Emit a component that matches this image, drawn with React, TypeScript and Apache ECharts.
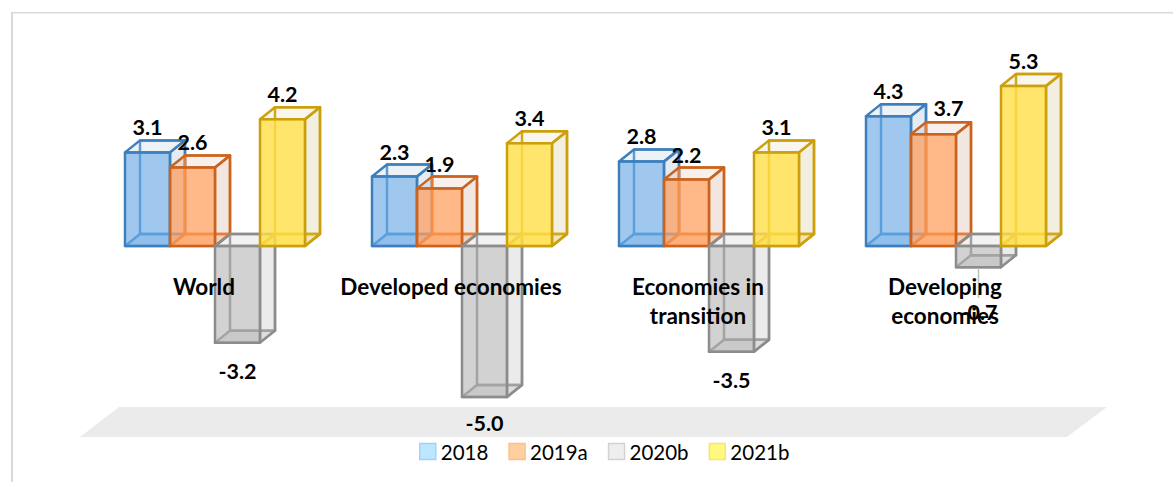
import React, { useEffect, useRef } from "react";
import * as echarts from "echarts";

const categories = ["World", "Developed economies", "Economies in\ntransition", "Developing\neconomies"];
const seriesNames = ["2018", "2019a", "2020b", "2021b"];
const values2018 = [3.1, 2.3, 2.8, 4.3];
const values2019a = [2.6, 1.9, 2.2, 3.7];
const values2020b = [-3.2, -5.0, -3.5, -0.7];
const values2021b = [4.2, 3.4, 3.1, 5.3];
const allValues = [values2018, values2019a, values2020b, values2021b];

const W = 1173;
const H = 482;
const BAND = 247;
const BAR = 45;
const FIRST = -79;
const DX = 15;
const DY = 12;
const FONT = "Lato, Carlito, 'Open Sans', sans-serif";
const Y_MAX = 6;
const GRID_HEIGHT = 362.4;

const styles = [
  { line: "#3d7fbd", back: "#5b9bd5", front: "rgba(91,160,226,0.58)", side: "rgba(130,165,195,0.22)", top: "rgba(130,165,195,0.14)", low: "rgba(91,160,226,0.22)", swatch: "#bde6ff", swatchLine: "#9fd3fb" },
  { line: "#c9631f", back: "#ed7d31", front: "rgba(255,150,80,0.68)", side: "rgba(190,130,100,0.20)", top: "rgba(190,130,100,0.12)", low: "rgba(255,150,80,0.25)", swatch: "#ffd09f", swatchLine: "#fdc088" },
  { line: "#8c8c8c", back: "#a0a0a0", front: "rgba(165,165,165,0.5)", side: "rgba(165,165,165,0.22)", top: "rgba(165,165,165,0.14)", low: "rgba(165,165,165,0.2)", swatch: "#eeeeee", swatchLine: "#d2d2d2" },
  { line: "#cba00c", back: "#d6a90f", front: "rgba(255,222,70,0.8)", side: "rgba(190,170,100,0.20)", top: "rgba(190,170,100,0.10)", low: "rgba(255,222,70,0.28)", swatch: "#fff97f", swatchLine: "#fbe36d" },
];

// Hand-placed label nudges, keyed by "series-category"
const labelNudge: Record<string, { dx?: number; dy?: number; leader?: boolean }> = {
  "1-3": { dx: 15, dy: -1 },
  "2-1": { dy: -2 },
  "2-3": { dy: 17, leader: true },
};

const poly = (points: number[][], fill: string, stroke: string, width = 2.5) => ({
  type: "polygon",
  shape: { points },
  style: { fill, stroke, lineWidth: width, lineJoin: "round" },
  silent: true,
});

function makeRender(si: number) {
  const s = styles[si];
  return (_params: any, api: any) => {
    const cat = api.value(0);
    const val = api.value(1);
    const [cx, yVal] = api.coord([cat, val]);
    const [, y0] = api.coord([cat, 0]);
    const band = api.size([1, 0])[0];
    const w = (band * BAR) / BAND;
    const x = cx + (band * FIRST) / BAND + si * w;
    const t = Math.min(yVal, y0);
    const b = Math.max(yVal, y0);
    const R = x + w;
    const shift = (p: number[]) => [p[0] + DX, p[1] - DY];
    const fBL = [x, b], fBR = [R, b], fTR = [R, t], fTL = [x, t];
    const bBL = shift(fBL), bBR = shift(fBR), bTR = shift(fTR), bTL = shift(fTL);

    const n = labelNudge[`${si}-${cat}`] || {};
    const above = val >= 0;
    const lx = x + w / 2 + (n.dx || 0);
    const ly = (above ? t - 25 : b + 28) + (n.dy || 0);

    const children: any[] = [
      poly([bTL, bTR, bBR, bBL], "rgba(255,255,255,0)", s.back),
      poly([fBL, fBR, bBR, bBL], s.low, s.back),
      poly([fBR, fTR, bTR, bBR], s.side, s.line),
      poly([fTL, fTR, bTR, bTL], s.top, s.line),
      poly([fTL, fTR, fBR, fBL], s.front, s.line),
    ];
    if (n.leader) {
      children.push({
        type: "line",
        shape: { x1: lx, y1: b + 1, x2: lx, y2: 298 },
        style: { stroke: "#bfbfbf", lineWidth: 1.5 },
        silent: true,
      });
    }
    children.push({
      type: "text",
      x: lx,
      y: ly,
      z2: 100,
      style: {
        text: val.toFixed(1),
        fill: "#000",
        font: `bold 21.5px ${FONT}`,
        textAlign: "center",
        textVerticalAlign: "middle",
      },
      silent: true,
    });
    return { type: "group", children };
  };
}

export default function App() {
  const ref = useRef<HTMLDivElement>(null);
  useEffect(() => {
    document.body.style.margin = "0";
    const chart = echarts.init(ref.current!, undefined, { renderer: "svg" });
    chart.setOption({
      animation: false,
      backgroundColor: "#fff",
      grid: { left: 80.5, width: 988, top: 64.8, height: GRID_HEIGHT, containLabel: false, outerBoundsMode: "none" },
      xAxis: {
        type: "category",
        data: categories,
        position: "bottom",
        offset: -GRID_HEIGHT / 2,
        z: 20,
        axisLine: { show: false, onZero: false },
        axisTick: { show: false },
        splitLine: { show: false },
        axisLabel: {
          interval: 0,
          margin: 26,
          color: "#000",
          fontFamily: FONT,
          fontWeight: "bold",
          fontSize: 22.5,
          lineHeight: 29,
          verticalAlign: "top",
        },
      },
      yAxis: {
        type: "value",
        min: -Y_MAX,
        max: Y_MAX,
        axisLine: { show: false },
        axisTick: { show: false },
        axisLabel: { show: false },
        splitLine: { show: false },
      },
      legend: {
        left: 419,
        top: 441,
        padding: 0,
        itemWidth: 16,
        itemHeight: 16,
        itemGap: 20,
        textStyle: { color: "#000", fontFamily: FONT, fontSize: 20.5 },
        data: seriesNames.map((name, i) => ({
          name,
          icon: "rect",
          itemStyle: { color: styles[i].swatch, borderColor: styles[i].swatchLine, borderWidth: 1.5 },
        })),
      },
      graphic: [
        { type: "rect", silent: true, z: -10, shape: { x: 11, y: 12, width: W - 11, height: 1.5 }, style: { fill: "#d9d9d9" } },
        { type: "rect", silent: true, z: -10, shape: { x: 11, y: 12, width: 2, height: H - 12 }, style: { fill: "#d9d9d9" } },
        {
          type: "polygon",
          silent: true,
          z: -10,
          shape: { points: [[119, 407], [1107, 407], [1067, 437], [80, 437]] },
          style: { fill: "#ebebeb" },
        },
      ],
      series: seriesNames.map((name, i) => ({
        name,
        type: "custom",
        coordinateSystem: "cartesian2d",
        z: 2 + i,
        clip: false,
        itemStyle: { color: styles[i].swatch, borderColor: styles[i].swatchLine },
        renderItem: makeRender(i),
        encode: { x: 0, y: 1 },
        data: allValues[i].map((v, c) => [c, v]),
      })),
    });
    return () => chart.dispose();
  }, []);
  return <div ref={ref} style={{ position: "fixed", left: 0, top: 0, width: W, height: H }} />;
}
